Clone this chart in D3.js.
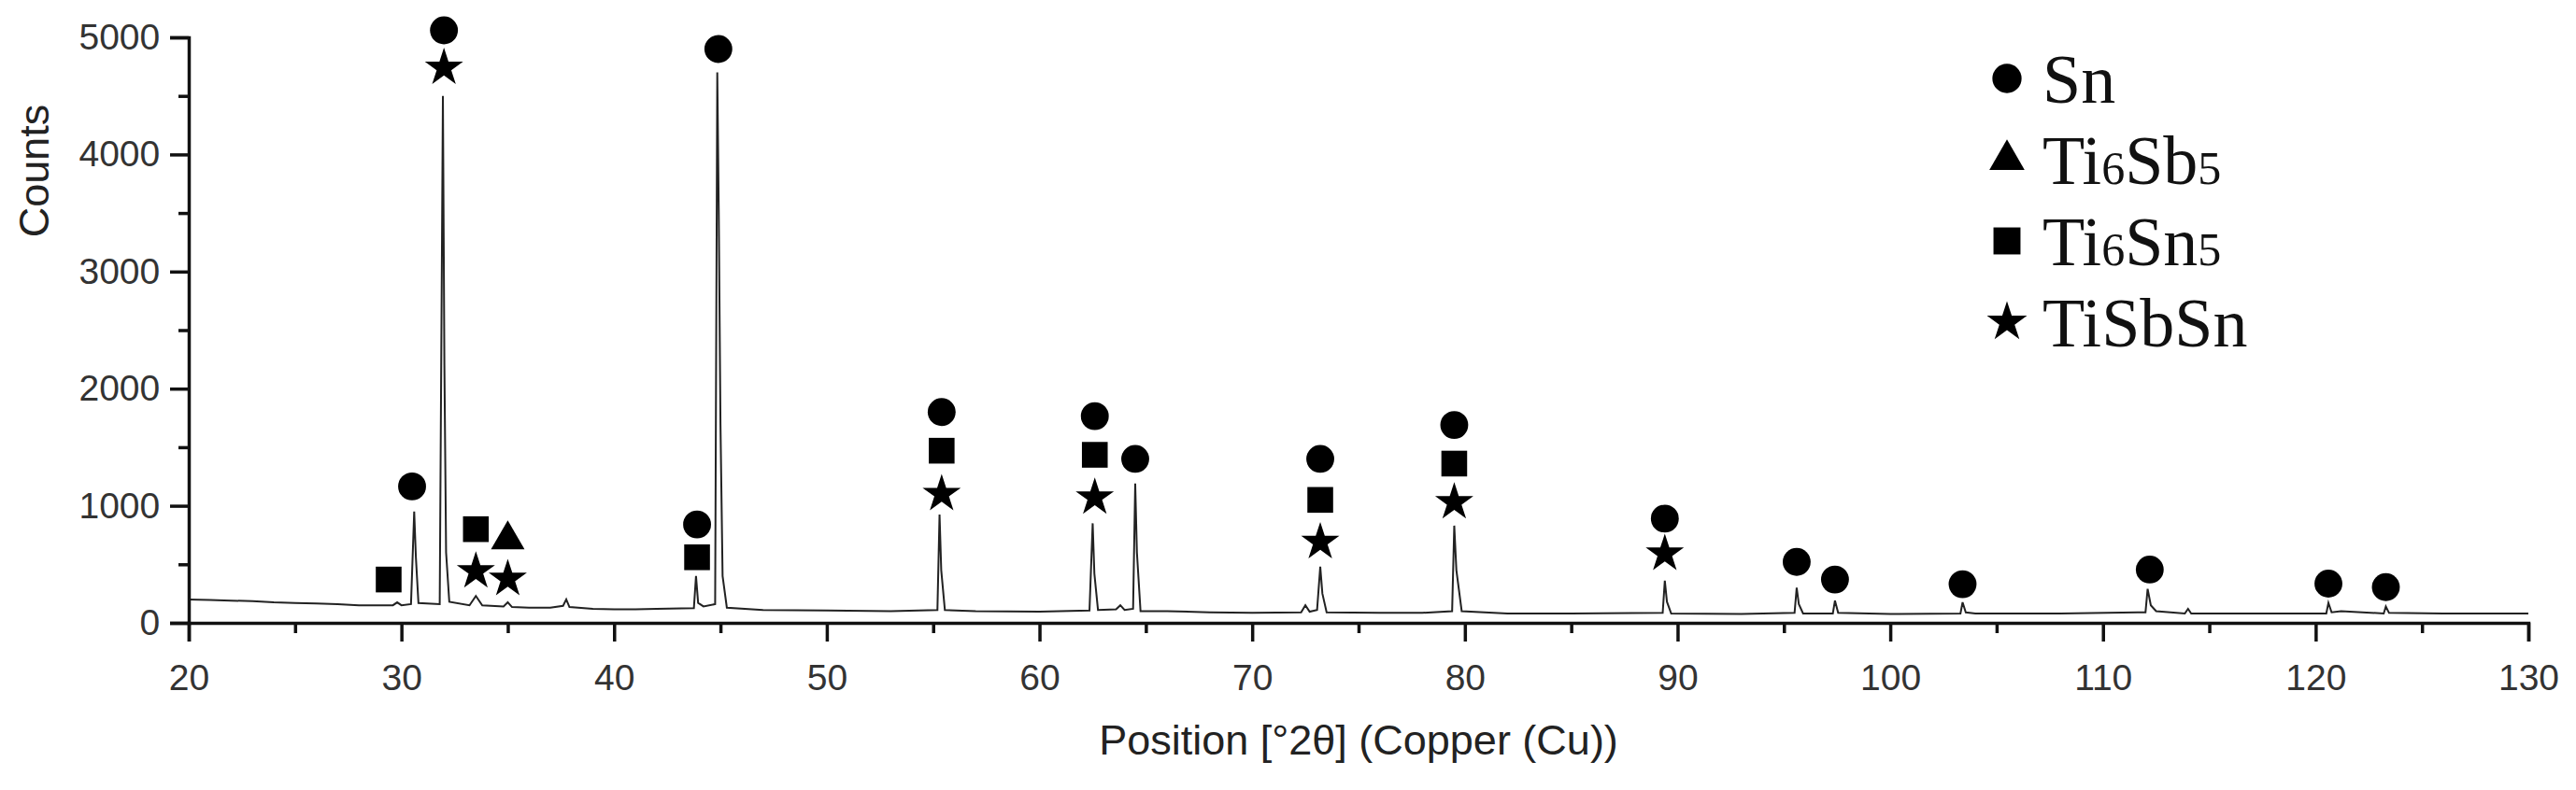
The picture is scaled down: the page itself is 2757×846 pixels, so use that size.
<!DOCTYPE html>
<html>
<head>
<meta charset="utf-8">
<script src="https://cdn.jsdelivr.net/npm/d3@7"></script>
<style>
  body { margin: 0; background: #fff; }
  svg { display: block; }
</style>
</head>
<body>
<div id="chart"></div>
<script>
// XRD profile: [2theta, counts]
const profile = [
  [20, 200], [21, 195], [22, 190], [23, 185], [24, 175], [25, 170], [26, 165], [27, 160], [28, 150], [29, 150],
  [29.6, 150], [29.8, 175], [30.0, 150], [30.45, 160], [30.6, 950], [30.68, 560], [30.8, 170],
  [31.8, 160], [31.95, 4500], [32.02, 2200], [32.1, 600], [32.25, 180],
  [33.2, 150], [33.5, 230], [33.8, 150], [34.8, 140], [35.0, 175], [35.2, 135],
  [36, 130], [37, 130], [37.6, 145], [37.75, 200], [37.9, 135], [39, 120], [40, 115], [41, 115], [42, 120],
  [43.75, 125], [43.85, 400], [43.95, 170], [44.2, 140], [44.75, 160], [44.85, 4700], [44.92, 3500], [45.0, 1700], [45.1, 400], [45.3, 130],
  [47, 110], [50, 105], [53, 100], [55.2, 110], [55.3, 925], [55.38, 450], [55.55, 110],
  [57, 100], [60, 95], [62.35, 105], [62.5, 850], [62.58, 420], [62.75, 110], [63.6, 115], [63.8, 150], [64.0, 110],
  [64.4, 120], [64.5, 1190], [64.58, 600], [64.75, 100],
  [66, 100], [68, 90], [70, 85], [72.3, 90], [72.5, 150], [72.7, 95], [73.05, 110], [73.2, 480], [73.3, 250], [73.5, 90],
  [76, 85], [78, 85], [79.4, 100], [79.5, 830], [79.6, 450], [79.85, 100], [82, 80], [85, 80],
  [89.3, 85], [89.4, 360], [89.5, 180], [89.7, 80], [93, 75], [95.5, 85], [95.6, 300], [95.7, 160], [95.9, 80],
  [97.3, 80], [97.4, 190], [97.55, 85], [100, 75], [103.3, 80], [103.4, 175], [103.55, 90], [104, 80],
  [108, 80], [112.0, 90], [112.1, 290], [112.25, 150], [112.5, 100], [113.85, 80], [114.0, 120], [114.15, 80],
  [118, 80], [120.5, 80], [120.6, 170], [120.75, 90], [121.2, 100], [123.2, 80], [123.3, 140], [123.45, 85],
  [126, 80], [128, 80], [130, 80]
];

// phase markers: [2theta, counts level, phase]
const markers = [
  [29.4, 370, "square"],
  [30.5, 1165, "circle"],
  [32.0, 5060, "circle"], [32.0, 4740, "star"],
  [33.5, 800, "square"], [33.5, 440, "star"],
  [35.0, 710, "triangle"], [35.0, 375, "star"],
  [43.9, 840, "circle"], [43.9, 560, "square"],
  [44.9, 4900, "circle"],
  [55.4, 1800, "circle"], [55.4, 1470, "square"], [55.4, 1100, "star"],
  [62.6, 1765, "circle"], [62.6, 1435, "square"], [62.6, 1070, "star"],
  [64.5, 1400, "circle"],
  [73.2, 1400, "circle"], [73.2, 1050, "square"], [73.2, 690, "star"],
  [79.5, 1690, "circle"], [79.5, 1360, "square"], [79.5, 1030, "star"],
  [89.4, 890, "circle"], [89.4, 590, "star"],
  [95.6, 520, "circle"], [97.4, 370, "circle"], [103.4, 330, "circle"],
  [112.2, 455, "circle"], [120.6, 335, "circle"], [123.3, 305, "circle"]
];

const legendShapes = ["circle", "triangle", "square", "star"];
const legendNames = [["Sn", ""], ["Ti", "6", "Sb", "5"], ["Ti", "6", "Sn", "5"], ["TiSbSn"]];

const xTicks = [20, 30, 40, 50, 60, 70, 80, 90, 100, 110, 120, 130];
const yTicks = [0, 1000, 2000, 3000, 4000, 5000];

const width = 2757, height = 846;
const svg = d3.select("#chart").append("svg").attr("width", width).attr("height", height);

const x = d3.scaleLinear().domain([20, 130]).range([202, 2706]);
const y = d3.scaleLinear().domain([0, 5000]).range([667, 40]);

const symType = { circle: d3.symbolCircle, square: d3.symbolSquare, triangle: d3.symbolTriangle, star: d3.symbolStar };
const symSize = { circle: 700, square: 760, triangle: 560, star: 520 };

// profile line
svg.append("path")
  .datum(profile)
  .attr("d", d3.line().x(d => x(d[0])).y(d => y(d[1])))
  .attr("fill", "none").attr("stroke", "#222").attr("stroke-width", 2);

// axes
const font = "'Liberation Sans', Arial, sans-serif";
const xAxis = svg.append("g").attr("transform", "translate(0,667)")
  .call(d3.axisBottom(x).tickValues(d3.range(20, 131, 5)).tickSize(20).tickFormat(d => xTicks.includes(d) ? d : ""));
xAxis.selectAll(".tick line").attr("y2", d => d % 10 === 0 ? 20 : 11);
const yAxis = svg.append("g").attr("transform", "translate(202,0)")
  .call(d3.axisLeft(y).tickValues(d3.range(0, 5001, 500)).tickSize(20).tickFormat(d => yTicks.includes(d) ? d : ""));
yAxis.selectAll(".tick line").attr("x2", d => d % 1000 === 0 ? -20 : -11);
[xAxis, yAxis].forEach(g => {
  g.select(".domain").attr("stroke-width", 3.5).attr("stroke", "#111");
  g.selectAll(".tick line").attr("stroke-width", 3.5).attr("stroke", "#111");
  g.selectAll("text").attr("font-family", font).attr("font-size", 39).attr("fill", "#333");
});
xAxis.selectAll("text").attr("dy", "1.25em");
yAxis.selectAll("text").attr("dx", "-0.2em");

svg.append("text").attr("x", x(75)).attr("y", 808).attr("text-anchor", "middle")
  .attr("font-family", font).attr("font-size", 45).attr("fill", "#222")
  .text("Position [°2θ] (Copper (Cu))");
svg.append("text").attr("transform", "translate(52,183) rotate(-90)").attr("text-anchor", "middle")
  .attr("font-family", font).attr("font-size", 45).attr("fill", "#222").text("Counts");

// markers
svg.append("g").selectAll("path").data(markers).join("path")
  .attr("transform", d => `translate(${x(d[0])},${y(d[1])})`)
  .attr("d", d => d3.symbol(symType[d[2]], symSize[d[2]])())
  .attr("fill", "#000");

// legend
const leg = svg.append("g").attr("transform", "translate(2148,0)");
legendShapes.forEach((s, i) => {
  const cy = 84 + i * 87;
  leg.append("path").attr("transform", `translate(0,${cy})`)
    .attr("d", d3.symbol(symType[s], symSize[s] * 1.1)()).attr("fill", "#000");
  const t = leg.append("text").attr("x", 38).attr("y", cy + 26)
    .attr("font-family", "'Liberation Serif', 'Times New Roman', serif").attr("font-size", 74).attr("fill", "#111");
  legendNames[i].forEach((part, j) => {
    t.append("tspan").attr("font-size", j % 2 === 1 ? 50 : 74).text(part);
  });
});
</script>
</body>
</html>
